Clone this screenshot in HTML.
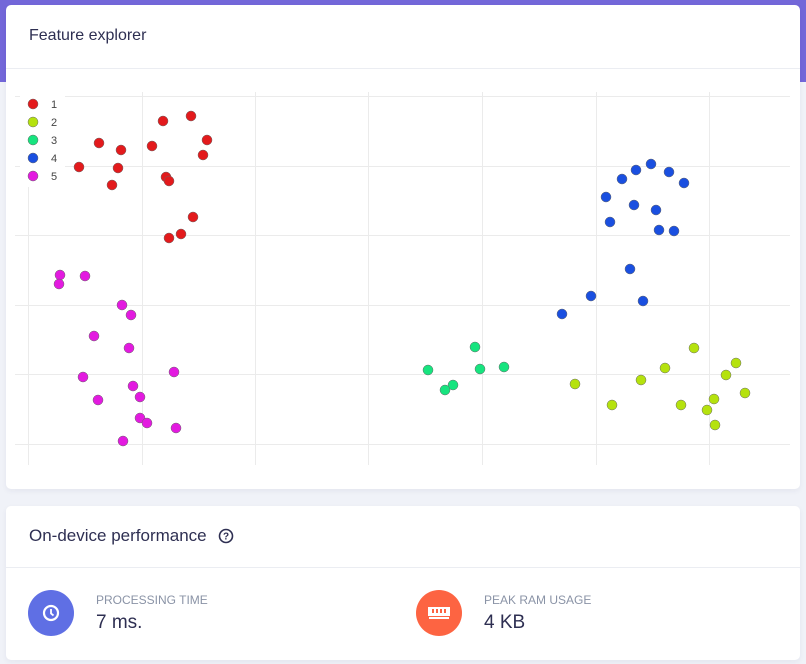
<!DOCTYPE html>
<html><head><style>
body{margin:0;width:806px;height:664px;background:#f0f2f8;font-family:"Liberation Sans",sans-serif;position:relative;overflow:hidden}
.band{position:absolute;left:0;top:0;width:806px;height:82px;background:#7367d9}
.card{position:absolute;left:6px;width:794px;background:#fff;border-radius:5px;box-shadow:0 2px 6px rgba(30,40,90,.06)}
.h{position:absolute;left:23px;color:#2e2f52;font-size:16px}
.line{position:absolute;left:0;width:794px;height:1px;background:#ebedf2}
.lab{position:absolute;font-size:12px;color:#8a93a6}
.val{position:absolute;font-size:19px;color:#2e2f52}
</style></head><body>
<div class="band"></div>
<div class="card" style="top:5px;height:484px">
<div class="h" style="top:22px">Feature explorer</div>
<div class="line" style="top:63px"></div>
</div>
<svg style="position:absolute;left:0;top:0" width="806" height="490">
<g stroke="#ebebeb" stroke-width="1">
<line x1="15" x2="790" y1="96.5" y2="96.5"/><line x1="15" x2="790" y1="166.5" y2="166.5"/><line x1="15" x2="790" y1="235.5" y2="235.5"/><line x1="15" x2="790" y1="305.5" y2="305.5"/><line x1="15" x2="790" y1="374.5" y2="374.5"/><line x1="15" x2="790" y1="444.5" y2="444.5"/>
<line x1="28.5" x2="28.5" y1="92" y2="465"/><line x1="142.5" x2="142.5" y1="92" y2="465"/><line x1="255.5" x2="255.5" y1="92" y2="465"/><line x1="368.5" x2="368.5" y1="92" y2="465"/><line x1="482.5" x2="482.5" y1="92" y2="465"/><line x1="596.5" x2="596.5" y1="92" y2="465"/><line x1="709.5" x2="709.5" y1="92" y2="465"/>
</g>
<rect x="20" y="92" width="45" height="95" fill="#fff"/>
<g stroke="#666" stroke-width="0.5">
<g fill="#e31a1c">
<circle cx="33" cy="104" r="5"/>
<circle cx="191" cy="116" r="5"/><circle cx="163" cy="121" r="5"/><circle cx="207" cy="140" r="5"/><circle cx="99" cy="143" r="5"/><circle cx="121" cy="150" r="5"/><circle cx="152" cy="146" r="5"/><circle cx="203" cy="155" r="5"/><circle cx="79" cy="167" r="5"/><circle cx="118" cy="168" r="5"/><circle cx="166" cy="177" r="5"/><circle cx="169" cy="181" r="5"/><circle cx="112" cy="185" r="5"/><circle cx="193" cy="217" r="5"/><circle cx="181" cy="234" r="5"/><circle cx="169" cy="238" r="5"/>
</g>
<g fill="#b5e20e"><circle cx="33" cy="122" r="5"/>
<circle cx="694" cy="348" r="5"/><circle cx="736" cy="363" r="5"/><circle cx="665" cy="368" r="5"/><circle cx="726" cy="375" r="5"/><circle cx="641" cy="380" r="5"/><circle cx="575" cy="384" r="5"/><circle cx="745" cy="393" r="5"/><circle cx="714" cy="399" r="5"/><circle cx="612" cy="405" r="5"/><circle cx="681" cy="405" r="5"/><circle cx="707" cy="410" r="5"/><circle cx="715" cy="425" r="5"/>
</g>
<g fill="#17e47f"><circle cx="33" cy="140" r="5"/>
<circle cx="475" cy="347" r="5"/><circle cx="428" cy="370" r="5"/><circle cx="480" cy="369" r="5"/><circle cx="504" cy="367" r="5"/><circle cx="453" cy="385" r="5"/><circle cx="445" cy="390" r="5"/>
</g>
<g fill="#1a4fe0"><circle cx="33" cy="158" r="5"/>
<circle cx="651" cy="164" r="5"/><circle cx="636" cy="170" r="5"/><circle cx="669" cy="172" r="5"/><circle cx="622" cy="179" r="5"/><circle cx="684" cy="183" r="5"/><circle cx="606" cy="197" r="5"/><circle cx="634" cy="205" r="5"/><circle cx="656" cy="210" r="5"/><circle cx="610" cy="222" r="5"/><circle cx="659" cy="230" r="5"/><circle cx="674" cy="231" r="5"/><circle cx="630" cy="269" r="5"/><circle cx="591" cy="296" r="5"/><circle cx="643" cy="301" r="5"/><circle cx="562" cy="314" r="5"/>
</g>
<g fill="#e31ae0"><circle cx="33" cy="176" r="5"/>
<circle cx="60" cy="275" r="5"/><circle cx="85" cy="276" r="5"/><circle cx="59" cy="284" r="5"/><circle cx="122" cy="305" r="5"/><circle cx="131" cy="315" r="5"/><circle cx="94" cy="336" r="5"/><circle cx="129" cy="348" r="5"/><circle cx="83" cy="377" r="5"/><circle cx="174" cy="372" r="5"/><circle cx="133" cy="386" r="5"/><circle cx="98" cy="400" r="5"/><circle cx="140" cy="397" r="5"/><circle cx="140" cy="418" r="5"/><circle cx="147" cy="423" r="5"/><circle cx="176" cy="428" r="5"/><circle cx="123" cy="441" r="5"/>
</g>
</g>
<g font-size="11" fill="#444" font-family="Liberation Sans,sans-serif">
<text x="51" y="108">1</text><text x="51" y="126">2</text><text x="51" y="144">3</text><text x="51" y="162">4</text><text x="51" y="180">5</text>
</g>
</svg>
<div class="card" style="top:506px;height:154px">
<div class="h" style="top:20px;font-size:17px">On-device performance</div>
<div class="line" style="top:61px"></div>
</div>
<svg style="position:absolute;left:0;top:526px" width="806" height="20">
<circle cx="226" cy="10" r="6.5" fill="none" stroke="#2e2f52" stroke-width="1.6"/>
<text x="226" y="13.5" font-size="10" font-weight="bold" text-anchor="middle" fill="#2e2f52" font-family="Liberation Sans,sans-serif">?</text>
</svg>
<svg style="position:absolute;left:0;top:580px" width="806" height="70">
<circle cx="51" cy="33" r="23" fill="#5f6fe4"/>
<circle cx="51" cy="33" r="7" fill="none" stroke="#fff" stroke-width="2.2"/>
<path d="M51 29v4.5l2.5 2" stroke="#fff" stroke-width="1.8" fill="none"/>
<circle cx="439" cy="33" r="23" fill="#fd6442"/>
<rect x="428" y="27" width="22" height="9" fill="#fff"/>
<rect x="432" y="29" width="2" height="4" fill="#fd6442"/><rect x="436" y="29" width="2" height="4" fill="#fd6442"/><rect x="440" y="29" width="2" height="4" fill="#fd6442"/><rect x="444" y="29" width="2" height="4" fill="#fd6442"/>
<rect x="429" y="37" width="20" height="2" fill="#fff"/>
</svg>
<div class="lab" style="left:96px;top:593px">PROCESSING TIME</div>
<div class="val" style="left:96px;top:612px">7 ms.</div>
<div class="lab" style="left:484px;top:593px">PEAK RAM USAGE</div>
<div class="val" style="left:484px;top:612px">4 KB</div>
</body></html>
